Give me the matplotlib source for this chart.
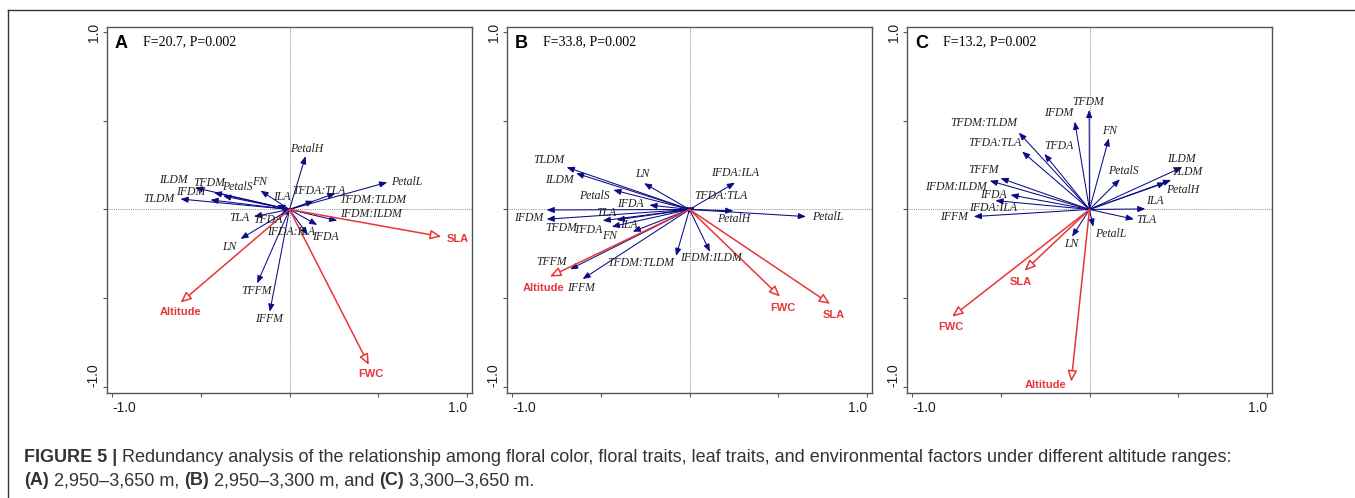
import matplotlib
matplotlib.use('Agg')
import matplotlib.pyplot as plt
from matplotlib.patches import FancyArrowPatch, ArrowStyle

# ---- panel A: 2,950-3,650 m ----
a_traits = ['PetalH', 'PetalL', 'ILDM', 'TFDM', 'IFDM', 'TLDM', 'PetalS', 'FN', 'ILA',
            'TFDA:TLA', 'TFDM:TLDM', 'IFDM:ILDM', 'TLA', 'TFDA', 'IFDA:ILA', 'IFDA',
            'LN', 'TFFM', 'IFFM']
a_x = [0.09, 0.55, -0.533, -0.426, -0.445, -0.614, -0.374, -0.163, -0.069,
       0.137, 0.259, 0.269, -0.2, -0.05, 0.103, 0.156, -0.276, -0.182, -0.111]
a_y = [0.30, 0.153, 0.123, 0.095, 0.054, 0.059, 0.076, 0.106, 0.025,
       0.048, 0.091, -0.063, -0.04, -0.035, -0.144, -0.087, -0.166, -0.416, -0.576]
a_lab_x = [0.095, 0.66, -0.656, -0.45, -0.554, -0.734, -0.295, -0.169, -0.041,
           0.165, 0.468, 0.461, -0.283, -0.121, 0.006, 0.203, -0.338, -0.186, -0.117]
a_lab_y = [0.34, 0.157, 0.166, 0.148, 0.10, 0.059, 0.128, 0.157, 0.069,
           0.106, 0.054, -0.025, -0.05, -0.059, -0.125, -0.153, -0.21, -0.457, -0.617]
a_env = ['SLA', 'Altitude', 'FWC']
a_env_x = [0.855, -0.614, 0.447]
a_env_y = [-0.153, -0.525, -0.876]
a_env_lab_x = [0.947, -0.616, 0.456]
a_env_lab_y = [-0.168, -0.576, -0.927]

# ---- panel B: 2,950-3,300 m ----
b_traits = ['TLDM', 'ILDM', 'LN', 'IFDA:ILA', 'TFDA:TLA', 'PetalS', 'IFDA', 'TFDM', 'IFDM',
            'TLA', 'TFDA', 'ILA', 'FN', 'TFFM', 'IFFM', 'TFDM:TLDM', 'IFDM:ILDM',
            'PetalH', 'PetalL']
b_x = [-0.692, -0.639, -0.256, 0.256, 0.031, -0.429, -0.226, -0.805, -0.805,
       -0.489, -0.438, -0.32, -0.41, -0.673, -0.602, -0.076, 0.115, 0.247, 0.656]
b_y = [0.238, 0.204, 0.148, 0.151, 0.012, 0.11, 0.025, -0.003, -0.055,
       -0.063, -0.097, -0.125, -0.059, -0.337, -0.392, -0.262, -0.238, -0.008, -0.04]
b_lab_x = [-0.79, -0.735, -0.265, 0.256, 0.174, -0.535, -0.331, -0.725, -0.906,
           -0.471, -0.575, -0.343, -0.448, -0.775, -0.614, -0.273, 0.12, 0.251, 0.777]
b_lab_y = [0.279, 0.166, 0.2, 0.204, 0.076, 0.076, 0.031, -0.106, -0.05,
           -0.018, -0.115, -0.087, -0.149, -0.294, -0.444, -0.303, -0.275, -0.055, -0.044]
b_env = ['Altitude', 'FWC', 'SLA']
b_env_x = [-0.786, 0.51, 0.792]
b_env_y = [-0.378, -0.491, -0.532]
b_env_lab_x = [-0.821, 0.525, 0.81]
b_env_lab_y = [-0.444, -0.557, -0.594]

# ---- panel C: 3,300-3,650 m ----
c_traits = ['TFDM', 'IFDM', 'FN', 'TFDM:TLDM', 'TFDA:TLA', 'TFDA', 'PetalS', 'ILDM', 'TLDM',
            'PetalH', 'ILA', 'TLA', 'PetalL', 'LN', 'TFFM', 'IFDM:ILDM', 'IFDA',
            'IFDA:ILA', 'IFFM']
c_x = [-0.002, -0.083, 0.109, -0.398, -0.379, -0.254, 0.171, 0.522, 0.46,
       0.428, 0.315, 0.25, 0.021, -0.098, -0.501, -0.562, -0.445, -0.53, -0.652]
c_y = [0.561, 0.495, 0.401, 0.433, 0.326, 0.313, 0.17, 0.238, 0.166,
       0.151, 0.003, -0.055, -0.097, -0.153, 0.176, 0.162, 0.082, 0.05, -0.04]
c_lab_x = [-0.006, -0.175, 0.111, -0.595, -0.535, -0.17, 0.19, 0.52, 0.55,
           0.527, 0.368, 0.321, 0.118, -0.105, -0.595, -0.753, -0.541, -0.544, -0.761]
c_lab_y = [0.607, 0.542, 0.444, 0.486, 0.376, 0.358, 0.219, 0.283, 0.213,
           0.11, 0.05, -0.059, -0.138, -0.194, 0.222, 0.125, 0.082, 0.007, -0.044]
c_env = ['SLA', 'FWC', 'Altitude']
c_env_x = [-0.366, -0.774, -0.103]
c_env_y = [-0.345, -0.604, -0.97]
c_env_lab_x = [-0.386, -0.783, -0.246]
c_env_lab_y = [-0.407, -0.66, -0.989]

panel_letters = ['A', 'B', 'C']
panel_stats = ['F=20.7, P=0.002', 'F=33.8, P=0.002', 'F=13.2, P=0.002']

BLUE = '#0b0b85'
RED = '#e8363a'
W, H = 1355, 498

fig = plt.figure(figsize=(W / 100, H / 100), dpi=100)


def draw_panel(ax, letter, stat, traits, tx, ty, lx, ly, env, ex, ey, elx, ely):
    ax.set_xlim(-1.028, 1.028)
    ax.set_ylim(-1.034, 1.028)
    ax.axhline(0, color='#8a8a8a', lw=0.7, ls=(0, (1, 1.2)), zorder=1)
    ax.axvline(0, color='#8a8a8a', lw=0.7, ls=(0, (1, 1.2)), zorder=1)

    blue_head = ArrowStyle('-|>', head_length=4.5, head_width=1.8)
    for x, y in zip(tx, ty):
        ax.add_patch(FancyArrowPatch((0, 0), (x, y), arrowstyle=blue_head, mutation_scale=1,
                                     color=BLUE, lw=0.75, shrinkA=0, shrinkB=0, zorder=3))
    for name, x, y in zip(traits, lx, ly):
        ax.text(x, y, name, fontsize=8.5, family='Liberation Serif', style='italic',
                color='#222222', ha='center', va='center', zorder=5)

    red_head = ArrowStyle('-|>', head_length=6.5, head_width=2.8)
    for x, y in zip(ex, ey):
        ax.add_patch(FancyArrowPatch((0, 0), (x, y), arrowstyle=red_head, mutation_scale=1,
                                     ec=RED, fc='white', lw=1.1, shrinkA=0, shrinkB=0, zorder=4))
    for name, x, y in zip(env, elx, ely):
        ax.text(x, y, name, fontsize=8, family='Liberation Sans', weight='bold',
                color=RED, ha='center', va='center', zorder=5)

    ax.text(0.022, 0.955, letter, transform=ax.transAxes, fontsize=13, weight='bold',
            family='Liberation Sans', va='center', ha='left')
    ax.text(0.099, 0.961, stat, transform=ax.transAxes, fontsize=10,
            family='Liberation Serif', va='center', ha='left')

    ax.set_xticks([-1, -0.5, 0, 0.5, 1])
    ax.set_xticklabels(['-1.0', '', '', '', '1.0'])
    ax.set_yticks([-1, -0.5, 0, 0.5, 1])
    ax.set_yticklabels(['-1.0', '', '', '', '1.0'], rotation=90, va='center')
    ax.tick_params(length=3, width=0.8, color='#555555', labelsize=10, labelcolor='#222222')
    ax.tick_params(axis='x', pad=2.5)
    ax.tick_params(axis='y', pad=1.5)
    xl = ax.get_xticklabels()
    xl[0].set_ha('left')
    xl[-1].set_ha('right')
    yl = ax.get_yticklabels()
    yl[0].set_va('bottom')
    for t in xl + yl:
        t.set_family('Liberation Sans')
    for s in ax.spines.values():
        s.set_color('#555555')
        s.set_linewidth(1.0)


panels = [
    (a_traits, a_x, a_y, a_lab_x, a_lab_y, a_env, a_env_x, a_env_y, a_env_lab_x, a_env_lab_y),
    (b_traits, b_x, b_y, b_lab_x, b_lab_y, b_env, b_env_x, b_env_y, b_env_lab_x, b_env_lab_y),
    (c_traits, c_x, c_y, c_lab_x, c_lab_y, c_env, c_env_x, c_env_y, c_env_lab_x, c_env_lab_y),
]
lefts = [107, 507, 907]
for i, data in enumerate(panels):
    ax = fig.add_axes([lefts[i] / W, (H - 393) / H, 365 / W, 366 / H])
    draw_panel(ax, panel_letters[i], panel_stats[i], *data)

# outer frame (top and left)
fig.add_artist(plt.Line2D([8 / W, 1], [1 - 10 / H, 1 - 10 / H], transform=fig.transFigure,
                          color='#333333', lw=1.0))
fig.add_artist(plt.Line2D([8 / W, 8 / W], [0, 1 - 10 / H], transform=fig.transFigure,
                          color='#333333', lw=1.0))

# caption with bold parts
cap_lines = [
    [('FIGURE 5 |', 'bold'), ('Redundancy analysis of the relationship among floral color, floral traits, '
                             'leaf traits, and environmental factors under different altitude ranges:', 'normal')],
    [('(A)', 'bold'), ('2,950–3,650 m,', 'normal'), ('(B)', 'bold'), ('2,950–3,300 m, and', 'normal'),
     ('(C)', 'bold'), ('3,300–3,650 m.', 'normal')],
]
cap_base = [462, 485]
cap_size = 13
renderer = fig.canvas.get_renderer()
probe = fig.text(0, 0, 'a a', fontsize=cap_size, family='Liberation Sans')
w1 = probe.get_window_extent(renderer).width
probe.set_text('aa')
space = w1 - probe.get_window_extent(renderer).width
probe.remove()
for line, base in zip(cap_lines, cap_base):
    x = 24
    for seg, weight in line:
        t = fig.text(x / W, 1 - base / H, seg, fontsize=cap_size, family='Liberation Sans',
                     weight=weight, color='#333333', va='baseline', ha='left')
        x = t.get_window_extent(renderer).x1 + space

fig.savefig('out.png', dpi=100)
